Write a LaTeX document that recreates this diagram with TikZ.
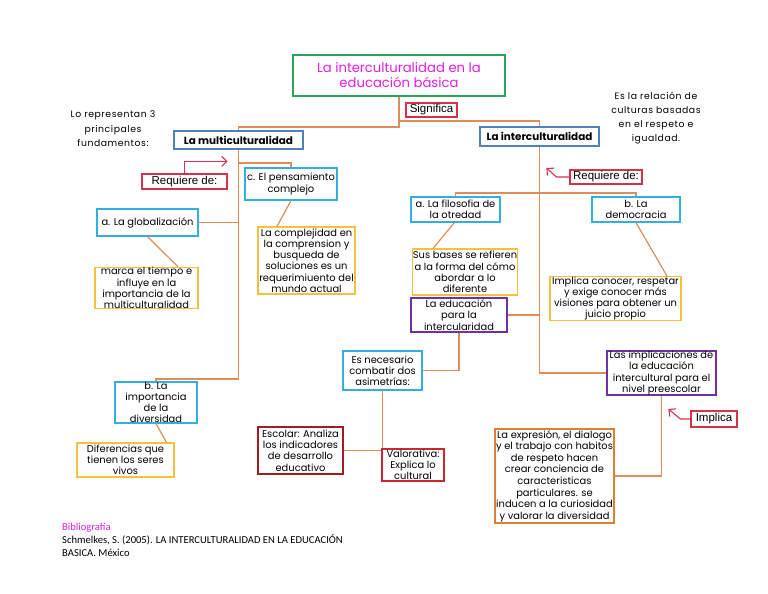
\documentclass[tikz,border=0pt]{standalone}
\usepackage{fontspec}
\setmainfont{Poppins}
\newfontfamily\spaced[LetterSpace=6]{Poppins}
\newfontfamily\arialf{Liberation Sans}
\newfontfamily\calib{Carlito}
\usetikzlibrary{arrows.meta}
\definecolor{conn}{RGB}{222,140,88}
\definecolor{cyanb}{RGB}{50,175,222}
\definecolor{steel}{RGB}{79,129,189}
\definecolor{goldb}{RGB}{245,192,60}
\definecolor{purp}{RGB}{112,48,160}
\definecolor{redb}{RGB}{215,50,75}
\definecolor{darkr}{RGB}{160,30,35}
\definecolor{valr}{RGB}{200,40,50}
\definecolor{greenb}{RGB}{40,165,90}
\definecolor{magt}{RGB}{225,30,225}
\definecolor{orab}{RGB}{225,125,55}
\tikzset{
  box/.style={draw, fill=white, line width=1.2pt, inner sep=0pt, align=center, font=\fontsize{9.9}{11.2}\selectfont},
  cbox/.style={box, draw=cyanb},
  ybox/.style={box, draw=goldb},
  pbox/.style={box, draw=purp},
  rbox/.style={box, draw=redb, font=\arialf\fontsize{11.5}{12}\selectfont},
  hbox/.style={box, draw=steel, font=\bfseries\fontsize{10.4}{11}\selectfont},
  ln/.style={draw=conn, line width=1.2pt},
  rarr/.style={draw=redb, line width=1.1pt, -{Straight Barb[length=5pt,width=10pt]}},
  sz/.style args={#1x#2}{minimum width=#1pt, minimum height=#2pt},
}
\begin{document}
\begin{tikzpicture}[x=1pt,y=-1pt]
\useasboundingbox (0,0) rectangle (768,594);
% connectors first
\coordinate (tS) at (399,96);
\coordinate (mN) at (238.5,131);
\coordinate (mS) at (238.5,149);
\coordinate (mc) at (238.5,163);
\coordinate (mtr) at (238.5,379);
\coordinate (iN) at (539.5,127);
\coordinate (iS) at (539.5,146);
\coordinate (ajn) at (455.5,193);
\draw[ln] (tS) -- (399,121) -| (iN);
\draw[ln] (399,121) -- (399,127) -| (mN);
\draw[ln] (mS) -- (mtr) -| (156,385);
\draw[ln] (mc) -| (291,168);
\draw[ln] (198,222.5) -- (238.5,222.5);
\draw[ln] (iS) |- (607,373);
\draw[ln] (455.5,197) -- (ajn) -| (636,197);
\draw[ln] (507,315) -- (539.5,315);
% nodes
\node[box, draw=greenb, sz=212x41, text=magt, font=\fontsize{13.2}{15}\selectfont] (title) at (399,75.5) {La interculturalidad en la\\educación básica};
\node[rbox, sz=51x14] (signif) at (431.5,110) {Significa};
\node[hbox, sz=129x18] (multi) at (238.5,140) {La multiculturalidad};
\node[hbox, sz=119x19] (inter) at (539.5,136.5) {La interculturalidad};
\node[rbox, sz=85x15] (req1) at (184.5,181.5) {Requiere de:};
\node[cbox, sz=92x32] (cpens) at (291,184) {c. El pensamiento\\complejo};
\node[cbox, sz=101x27] (glob) at (147.5,222.5) {a. La globalización};
\node[ybox, sz=97x67] (ycomp) at (306.5,260.5) {La complejidad en\\la comprension y\\busqueda de\\soluciones es un\\requerimiuento del\\mundo actual};
\node[ybox, sz=103x40] (ymarca) at (146.5,288) {marca el tiempo e\\influye en la\\importancia de la\\multiculturalidad};
\node[cbox, sz=82x35] (bimp) at (156,402.5) {b. La\\importancia\\de la\\diversidad};
\node[ybox, sz=97x34] (ydif) at (125.5,460) {Diferencias que\\tienen los seres\\vivos};
\node[rbox, sz=72x14] (req2) at (606,177) {Requiere de:};
\node[cbox, sz=89x25] (afil) at (455.5,209.5) {a. La filosofia de\\la otredad};
\node[cbox, sz=88x25] (bdem) at (636,209.5) {b. La\\democracia};
\node[ybox, sz=104x46] (ysus) at (465,272) {Sus bases se refieren\\a la forma del cómo\\abordar a lo\\diferente};
\node[ybox, sz=131x43] (yimp) at (615.5,298.5) {Implica conocer, respetar\\y exige conocer más\\visiones para obtener un\\juicio propio};
\node[pbox, sz=96x34] (peduc) at (459,315) {La educación\\para la\\intercularidad};
\node[cbox, sz=79x39] (esnec) at (382.5,370.5) {Es necesario\\combatir dos\\asimetrías:};
\node[box, draw=darkr, sz=85x47] (escolar) at (300.5,450.5) {Escolar: Analiza\\los indicadores\\de desarrollo\\educativo};
\node[box, draw=valr, sz=62x32] (valor) at (413,465) {Valorativa:\\Explica lo\\cultural};
\node[pbox, sz=109x44] (pimpl) at (661.5,373) {Las implicaciones de\\la educación\\intercultural para el\\nivel preescolar};
\node[box, draw=orab, sz=119x94, font=\fontsize{9.9}{11.6}\selectfont] (oexp) at (554.5,476) {La expresión, el dialogo\\y el trabajo con habitos\\de respeto hacen\\crear conciencia de\\caracteristicas\\particulares. se\\inducen a la curiosidad\\y valorar la diversidad};
\node[rbox, sz=46x16] (implica) at (714,419) {Implica};
% free texts
\node[align=center, font=\spaced\fontsize{9.3}{14.5}\selectfont] (lotxt) at (113,129) {Lo representan 3\\principales\\fundamentos:};
\node[align=center, font=\spaced\fontsize{9.3}{14}\selectfont] (estxt) at (656,118) {Es la relación de\\culturas basadas\\en el respeto e\\igualdad.};
\node[anchor=north west, align=left, inner sep=0pt, font=\calib\fontsize{10.6}{13}\selectfont] (bib) at (62,523) {\textcolor{magt}{Bibliografía}\\Schmelkes, S. (2005). LA INTERCULTURALIDAD EN LA EDUCACIÓN\\BASICA. México};
% connectors referencing nodes
\draw[ln] (cpens.south) -- ([xshift=-29.5pt]ycomp.north);
\draw[ln] (glob.south) -- ([xshift=31.5pt]ymarca.north);
\draw[ln] (bimp.south) -- ([xshift=41pt]ydif.north);
\draw[ln] ([xshift=-1pt]afil.south) -- ([xshift=-32pt]ysus.north);
\draw[ln] (bdem.south) -- ([xshift=51.5pt]yimp.north);
\draw[ln] (peduc.south) |- (esnec.east);
\draw[ln] (esnec.south) -- (esnec.south |- valor.north);
\draw[ln] (escolar.east) -- (escolar.east -| valor.west);
\draw[ln] (pimpl.south) |- (oexp.east);
\draw[rarr] (req1.north) -- ++(0,-12) -- ++(43,0);
\draw[rarr] (req2.west) -- ++(-13,0) -- ++(-10,-9);
\draw[rarr] (implica.west) -- ++(-10,0) -- ++(-12,-10);
\end{tikzpicture}
\end{document}
